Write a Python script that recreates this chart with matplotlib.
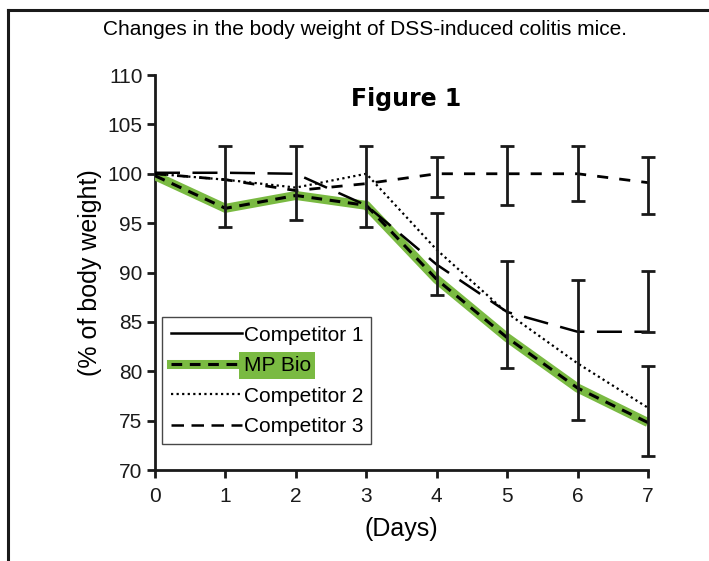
import numpy as np
import matplotlib.pyplot as plt
from matplotlib.lines import Line2D

plt.rcParams['font.family'] = ['Liberation Sans Narrow', 'DejaVu Sans Condensed',
                               'Liberation Sans', 'DejaVu Sans']

days = [0, 1, 2, 3, 4, 5, 6, 7]
mp_bio = [99.8, 96.5, 97.8, 96.8, 89.3, 83.4, 78.3, 74.8]
comp1 = [99.8, 96.5, 97.8, 96.8, 89.3, 83.4, 78.3, 74.8]
comp2 = [100.0, 99.4, 98.6, 100.0, 92.3, 85.9, 80.8, 76.3]
comp3 = [100.1, 100.1, 100.0, 96.8, 90.8, 86.0, 84.0, 84.0]
control = [100.0, 99.4, 98.3, 99.0, 100.0, 100.0, 100.0, 99.1]

# error bars read as (day, low, high)
bar_day = [1, 2, 3, 4, 4, 5, 5, 6, 6, 7, 7, 7]
bar_low = [94.6, 95.3, 94.6, 97.6, 87.7, 96.8, 80.3, 97.2, 75.1, 95.9, 84.0, 71.4]
bar_high = [102.8, 102.8, 102.8, 101.7, 96.0, 102.8, 91.2, 102.8, 89.2, 101.7, 90.2, 80.5]

green = '#7aba42'

fig = plt.figure(figsize=(7.09, 5.61), dpi=100)
ax = fig.add_axes([0.2186, 0.1622, 0.6954, 0.7041])

ax.plot(days, comp1, color='black', lw=1.8, zorder=2)
ax.plot(days, mp_bio, color=green, lw=6.5, solid_capstyle='butt', zorder=3)
ax.plot(days, mp_bio, color='black', lw=2.2, dashes=(3.5, 2.5), zorder=4)
ax.plot(days, comp2, color='black', lw=1.6, dashes=(1, 1.5), zorder=4)
ax.plot(days, comp3, color='black', lw=1.8, dashes=(10, 5), zorder=4)
ax.plot(days, control, color='black', lw=2.0, dashes=(4, 4), zorder=4)

lo = np.array(bar_low)
hi = np.array(bar_high)
ax.errorbar(bar_day, (lo + hi) / 2, yerr=(hi - lo) / 2, fmt='none',
            ecolor='#1a1a1a', elinewidth=2, capsize=5, capthick=2,
            zorder=5, clip_on=False)

ax.set_xlim(0, 7)
ax.set_ylim(70, 110)
ax.set_xticks(days)
ax.set_yticks(np.arange(70, 111, 5))
for s in ['top', 'right']:
    ax.spines[s].set_visible(False)
for s in ['left', 'bottom']:
    ax.spines[s].set_linewidth(2)
    ax.spines[s].set_color('#1a1a1a')
ax.tick_params(direction='out', length=6, width=2, labelsize=15,
               colors='#1a1a1a', pad=3)
ax.tick_params(axis='x', pad=6)

ax.set_xlabel('(Days)', fontsize=18, labelpad=8)
ax.set_ylabel('(% of body weight)', fontsize=18, labelpad=4)

ax.text(0.51, 0.94, 'Figure 1', transform=ax.transAxes, ha='center',
        va='center', fontsize=17, fontweight='bold', family='DejaVu Sans')

h1 = Line2D([], [], color='black', lw=1.8)
hmp = (Line2D([], [], color=green, lw=6.5),
       Line2D([], [], color='black', lw=2.2, dashes=(3.5, 2.5)))
h2 = Line2D([], [], color='black', lw=1.6, dashes=(1, 1.5))
h3 = Line2D([], [], color='black', lw=1.8, dashes=(5, 3))
leg = ax.legend([h1, hmp, h2, h3],
                ['Competitor 1', 'MP Bio', 'Competitor 2', 'Competitor 3'],
                loc='lower left', bbox_to_anchor=(0.015, 0.065),
                fontsize=15, frameon=True, fancybox=False, handlelength=3.4,
                handletextpad=0.1, labelspacing=0.55, borderpad=0.4,
                borderaxespad=0)
leg.get_frame().set_edgecolor('#1a1a1a')
leg.get_frame().set_linewidth(1)
leg.get_texts()[1].set_bbox(dict(facecolor=green, edgecolor='none', pad=3))

fig.text(0.515, 0.947, 'Changes in the body weight of DSS-induced colitis mice.',
         ha='center', va='center', fontsize=15)

fig.add_artist(Line2D([0.0113, 1.0], [0.982, 0.982], transform=fig.transFigure,
                      color='#1a1a1a', lw=2.2))
fig.add_artist(Line2D([0.0113, 0.0113], [0.0, 0.982], transform=fig.transFigure,
                      color='#1a1a1a', lw=2.2))

fig.savefig('out.png', dpi=100)
